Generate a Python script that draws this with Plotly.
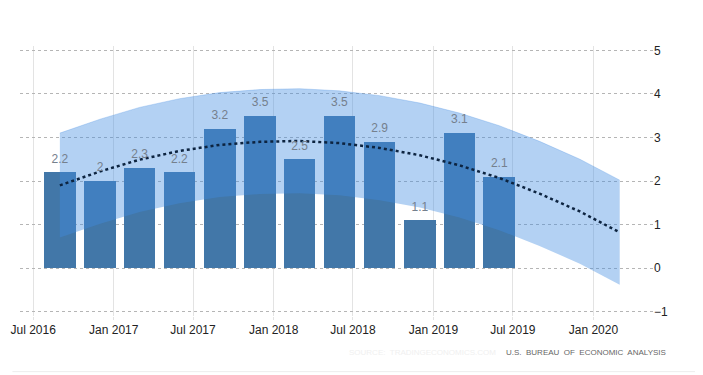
import pandas as pd
import plotly.graph_objects as go

# Data
quarters = ["2016-09-30", "2016-12-31", "2017-03-31", "2017-06-30", "2017-09-30", "2017-12-31",
            "2018-03-31", "2018-06-30", "2018-09-30", "2018-12-31", "2019-03-31", "2019-06-30"]
gdp_growth = [2.2, 2.0, 2.3, 2.2, 3.2, 3.5, 2.5, 3.5, 2.9, 1.1, 3.1, 2.1]

trend_quarters = quarters + ["2019-09-30", "2019-12-31", "2020-03-31"]
trend_values = [1.90, 2.22, 2.49, 2.69, 2.83, 2.90, 2.92, 2.87, 2.76, 2.59, 2.36, 2.07, 1.71, 1.30, 0.82]
band_upper = [3.10, 3.42, 3.69, 3.89, 4.03, 4.10, 4.12, 4.07, 3.96, 3.79, 3.56, 3.27, 2.91, 2.50, 2.02]
band_lower = [0.70, 1.02, 1.29, 1.49, 1.63, 1.70, 1.72, 1.67, 1.56, 1.39, 1.16, 0.87, 0.51, 0.10, -0.38]

x_tick_vals = ["2016-07-01", "2017-01-01", "2017-07-01", "2018-01-01", "2018-07-01",
               "2019-01-01", "2019-07-01", "2020-01-01"]
x_tick_text = ["Jul 2016", "Jan 2017", "Jul 2017", "Jan 2018", "Jul 2018",
               "Jan 2019", "Jul 2019", "Jan 2020"]
y_ticks = [-1, 0, 1, 2, 3, 4, 5]

shift = pd.Timedelta(days=30)
bar_x = pd.to_datetime(quarters) - shift
trend_x = pd.to_datetime(trend_quarters) - shift
day_ms = 24 * 3600 * 1000

fig = go.Figure()
fig.add_trace(go.Bar(
    x=bar_x, y=gdp_growth, width=72 * day_ms,
    marker=dict(color="#4277a8", line=dict(width=0)),
    hoverinfo="skip",
))
fig.add_trace(go.Scatter(
    x=trend_x, y=band_lower, mode="lines", line=dict(width=0, color="rgba(0,0,0,0)"),
    hoverinfo="skip",
))
fig.add_trace(go.Scatter(
    x=trend_x, y=band_upper, mode="lines", line=dict(width=0.8, color="rgba(65,140,225,0.35)"),
    fill="tonexty", fillcolor="rgba(65,140,225,0.4)", hoverinfo="skip",
))
fig.add_trace(go.Scatter(
    x=trend_x, y=trend_values, mode="lines",
    line=dict(color="#0d2440", width=2.5, dash="dot"), hoverinfo="skip",
))
fig.add_trace(go.Scatter(
    x=bar_x, y=gdp_growth, mode="markers+text",
    marker=dict(size=9, opacity=0),
    text=[f"{v:g}" for v in gdp_growth], textposition="top center",
    textfont=dict(family="Liberation Sans, Arial, sans-serif", size=12, color="#75808d"),
    hoverinfo="skip",
))

fig.update_layout(
    width=695, height=367,
    margin=dict(l=12, r=50, t=38.3, b=58.6),
    paper_bgcolor="white", plot_bgcolor="white",
    showlegend=False, bargap=0,
    font=dict(family="Liberation Sans, Arial, sans-serif", size=12, color="#333333"),
    xaxis=dict(
        type="date", range=["2016-06-01", "2020-05-16"],
        tickvals=x_tick_vals, ticktext=x_tick_text,
        showgrid=True, gridcolor="#e3e3e3", gridwidth=1,
        ticks="outside", ticklen=3, tickcolor="#e3e3e3",
        zeroline=False, showline=False, automargin=False,
        tickfont=dict(size=12, color="#222222"),
    ),
    yaxis=dict(
        range=[-1.1, 5.1], side="right", tickvals=y_ticks,
        showgrid=True, gridcolor="#b5b5b5", griddash="dot", gridwidth=1,
        zeroline=False, showline=False, ticks="", automargin=False,
        tickfont=dict(size=12, color="#222222"),
    ),
    annotations=[
        dict(xref="paper", yref="paper", x=1.024, y=-0.135, xanchor="right", yanchor="middle",
             text="U.S.  BUREAU  OF  ECONOMIC  ANALYSIS", showarrow=False,
             font=dict(size=8, color="#666666")),
        dict(xref="paper", yref="paper", x=0.755, y=-0.135, xanchor="right", yanchor="middle",
             text="SOURCE:  TRADINGECONOMICS.COM", showarrow=False,
             font=dict(size=8, color="#f0f0f0")),
    ],
    shapes=[
        dict(type="line", xref="paper", yref="paper", x0=-0.012, x1=1.07, y0=-0.206, y1=-0.206,
             line=dict(color="#eeeeee", width=1)),
    ],
)

fig.write_html("out.html")
